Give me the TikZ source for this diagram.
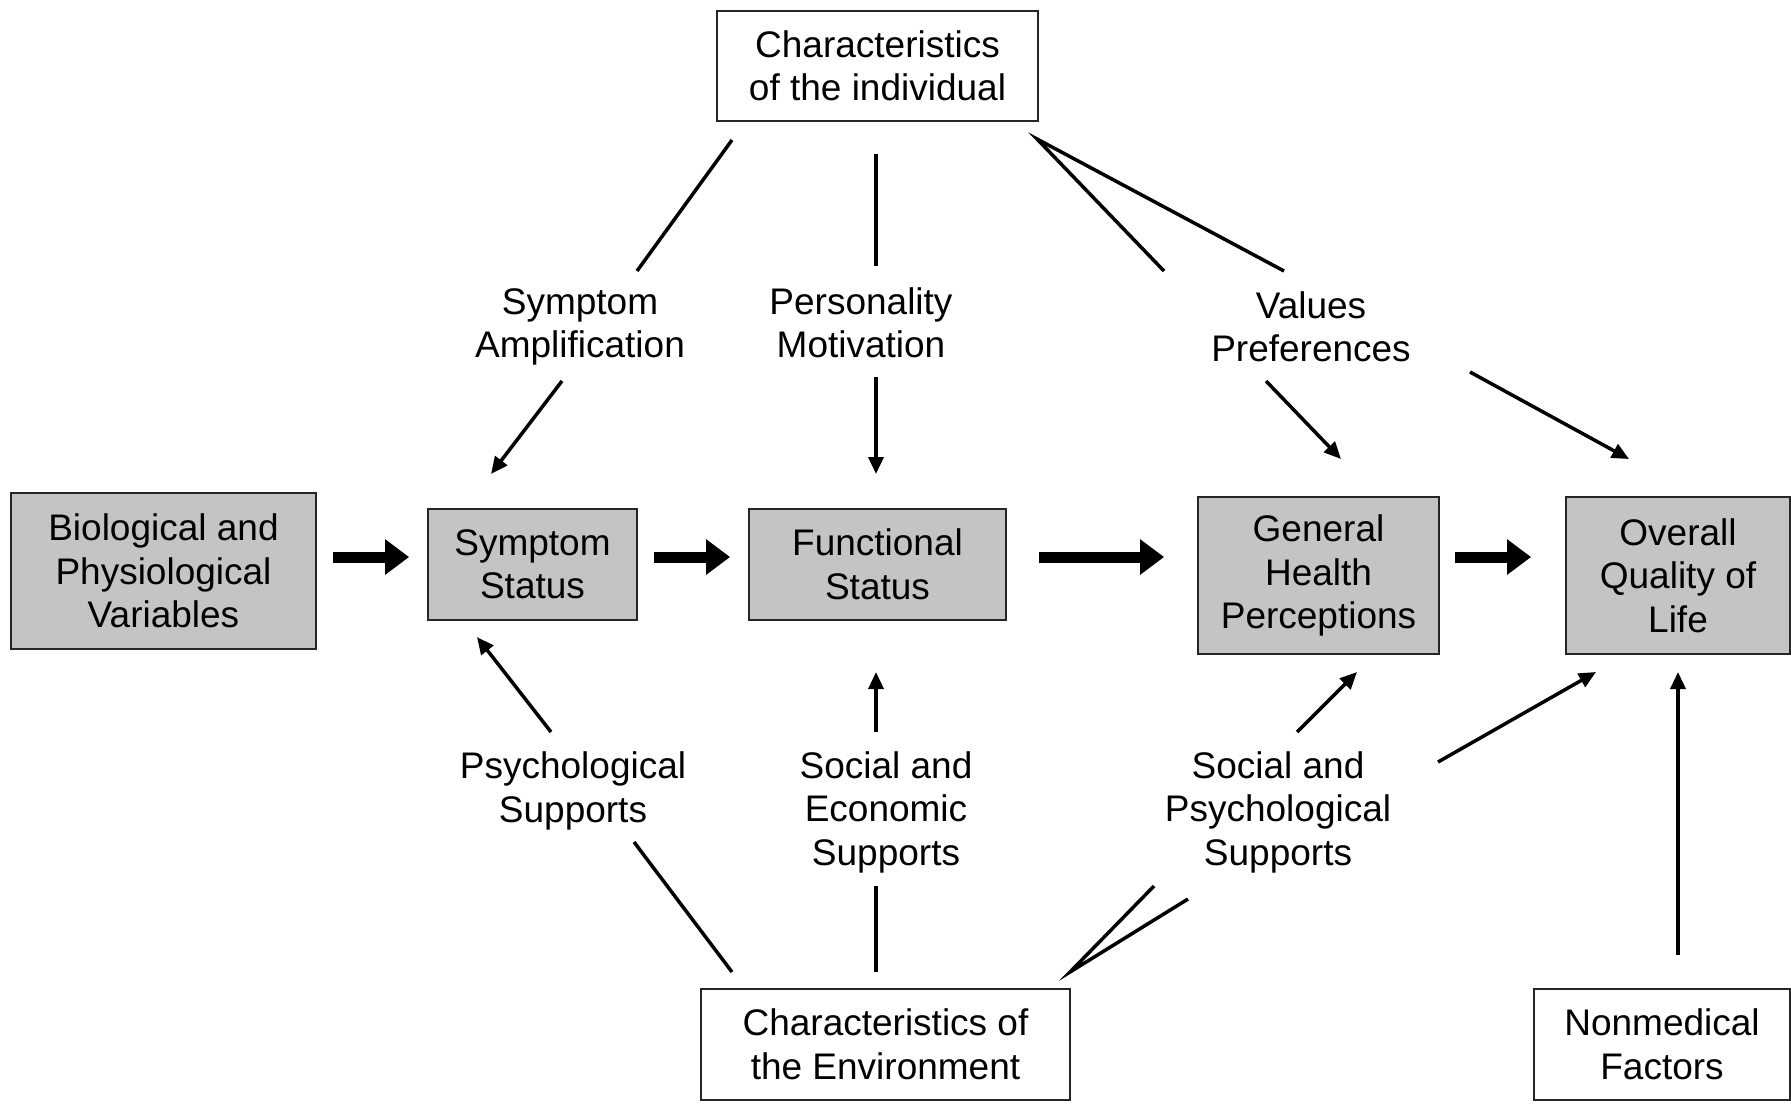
\documentclass[tikz,border=0pt]{standalone}
\usepackage{fontspec}
\setmainfont{Liberation Sans}
\usetikzlibrary{arrows.meta}
\begin{document}
\begin{tikzpicture}[x=1pt,y=-1pt,
  every node/.style={font=\fontsize{37}{43.5}\selectfont, align=center, inner sep=0pt},
  graybox/.style={draw=black!85, line width=1.8pt, fill={rgb,255:red,196;green,196;blue,196}},
  whitebox/.style={draw=black!85, line width=1.8pt, fill=white},
  conn/.style={line width=3.5pt},
  thinarrow/.style={conn, -{Triangle[length=17pt,width=15pt]}},
  bigarrow/.style={line width=11pt, -{Triangle[length=24pt,width=34pt]}}
]
\useasboundingbox (0,0) rectangle (1791,1104);

% boxes
\node[whitebox, minimum width=321pt, minimum height=110pt] (indiv) at (877.5,66) {Characteristics\\of the individual};
\node[graybox, minimum width=305pt, minimum height=156pt] (bio) at (163.5,571) {Biological and\\Physiological\\Variables};
\node[graybox, minimum width=209pt, minimum height=111pt] (symp) at (532.5,564.5) {Symptom\\Status};
\node[graybox, minimum width=257pt, minimum height=111pt] (func) at (877.5,564.5) {Functional\\Status};
\node[graybox, minimum width=241pt, minimum height=157pt] (ghp) at (1318.5,575.5) {General\\Health\\Perceptions};
\node[graybox, minimum width=224pt, minimum height=157pt] (qol) at (1678,575.5) {Overall\\Quality of\\Life};
\node[whitebox, minimum width=369pt, minimum height=111pt] (env) at (885.5,1044.5) {Characteristics of\\the Environment};
\node[whitebox, minimum width=256pt, minimum height=111pt] (nonmed) at (1662,1044.5) {Nonmedical\\Factors};

% labels
\node (lsa) at (580,327) {Symptom\\Amplification};
\node (lpm) at (861,323) {Personality\\Motivation};
\node (lvp) at (1311,327) {Values\\Preferences};
\node (lps) at (573,791) {Psychological\\Supports};
\node (lse) at (886,812) {Social and\\Economic\\Supports};
\node (lsp) at (1278,812) {Social and\\Psychological\\Supports};

% thick arrows
\coordinate (ay) at (0,557);
\draw[bigarrow, shorten <=16pt, shorten >=18pt] (bio.east |- ay) -- (symp.west |- ay);
\draw[bigarrow, shorten <=16pt, shorten >=18pt] (symp.east |- ay) -- (func.west |- ay);
\draw[bigarrow, shorten <=32pt, shorten >=33pt] (func.east |- ay) -- (ghp.west |- ay);
\draw[bigarrow, shorten <=15pt, shorten >=34pt] (ghp.east |- ay) -- (qol.west |- ay);

% top connectors
\coordinate (t1a) at (732,140); \coordinate (t1b) at (637,271);
\coordinate (t2a) at (562,381); \coordinate (t2b) at (491,474);
\coordinate (t3a) at (876,154); \coordinate (t3b) at (876,266);
\coordinate (t4a) at (876,377); \coordinate (t4b) at (876,474);
\coordinate (t5a) at (1037,139); \coordinate (t5b) at (1164,271); \coordinate (t5c) at (1284,271);
\coordinate (t6a) at (1266,381); \coordinate (t6b) at (1341,459);
\coordinate (t7a) at (1470,372); \coordinate (t7b) at (1629,459);
\draw[conn] (t1a) -- (t1b);
\draw[thinarrow] (t2a) -- (t2b);
\draw[conn] (t3a) -- (t3b);
\draw[thinarrow] (t4a) -- (t4b);
\draw[conn, line join=miter] (t5b) -- (t5a) -- (t5c);
\draw[thinarrow] (t6a) -- (t6b);
\draw[thinarrow] (t7a) -- (t7b);

% bottom connectors
\coordinate (b1a) at (732,972); \coordinate (b1b) at (634,842);
\coordinate (b2a) at (551,732); \coordinate (b2b) at (477,637);
\coordinate (b3a) at (876,972); \coordinate (b3b) at (876,886);
\coordinate (b4a) at (876,732); \coordinate (b4b) at (876,672);
\coordinate (b5a) at (1070,972); \coordinate (b5b) at (1154,886); \coordinate (b5c) at (1188,899);
\coordinate (b6a) at (1297,732); \coordinate (b6b) at (1357,672);
\coordinate (b7a) at (1438,762); \coordinate (b7b) at (1596,672);
\coordinate (n1a) at (1678,955); \coordinate (n1b) at (1678,672);
\draw[conn] (b1a) -- (b1b);
\draw[thinarrow] (b2a) -- (b2b);
\draw[conn] (b3a) -- (b3b);
\draw[thinarrow] (b4a) -- (b4b);
\draw[conn, line join=miter] (b5b) -- (b5a) -- (b5c);
\draw[thinarrow] (b6a) -- (b6b);
\draw[thinarrow] (b7a) -- (b7b);
\draw[thinarrow] (n1a) -- (n1b);
\end{tikzpicture}
\end{document}
